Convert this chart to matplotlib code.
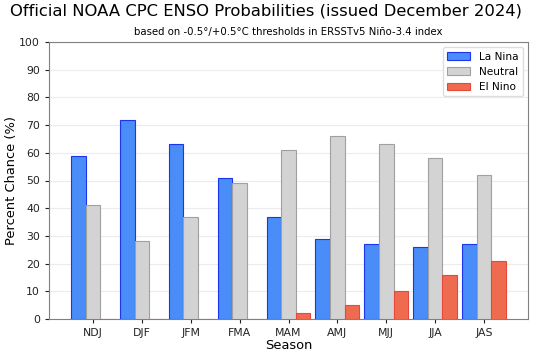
import numpy as np
import matplotlib.pyplot as plt

seasons = ['NDJ', 'DJF', 'JFM', 'FMA', 'MAM', 'AMJ', 'MJJ', 'JJA', 'JAS']
la_nina = [59, 72, 63, 51, 37, 29, 27, 26, 27]
neutral = [41, 28, 37, 49, 61, 66, 63, 58, 52]
el_nino = [0, 0, 0, 0, 2, 5, 10, 16, 21]

fig = plt.figure(figsize=(5.5, 3.52), dpi=100)
ax = fig.add_axes([49 / 550, 1 - 319 / 352, (528 - 49) / 550, (319 - 42) / 352])

x = np.arange(len(seasons))
w = 0.3
ax.bar(x - w, la_nina, w, color='#4a8df8', edgecolor='#1a35f0', linewidth=0.8, label='La Nina', zorder=3)
ax.bar(x, neutral, w, color='#d3d3d3', edgecolor='#a0a0a0', linewidth=0.8, label='Neutral', zorder=3)
ax.bar(x + w, el_nino, w, color='#ef6b50', edgecolor='#e8483a', linewidth=0.8, label='El Nino', zorder=3)

ax.set_xlim(-0.9, 8.9)
ax.set_ylim(0, 100)
ax.set_yticks(range(0, 101, 10))
ax.set_xticks(x)
ax.set_xticklabels(seasons)
ax.tick_params(labelsize=7.8, colors='#222222', length=3)
ax.grid(axis='y', color='#ececec', linewidth=0.8, zorder=0)
for s in ax.spines.values():
    s.set_color('#808080')

ax.set_ylabel('Percent Chance (%)', fontsize=9.4, labelpad=1)
ax.set_xlabel('Season', fontsize=9.4, labelpad=1)
ax.set_title('based on -0.5°/+0.5°C thresholds in ERSSTv5 Niño-3.4 index', fontsize=7.3, pad=5)
fig.suptitle('Official NOAA CPC ENSO Probabilities (issued December 2024)', fontsize=11.8, x=0.484, y=0.99)

ax.legend(loc='upper right', fontsize=7.6, framealpha=1, edgecolor='#dddddd',
          handlelength=2.2, borderaxespad=0.5)

fig.savefig('out.png', dpi=100)
